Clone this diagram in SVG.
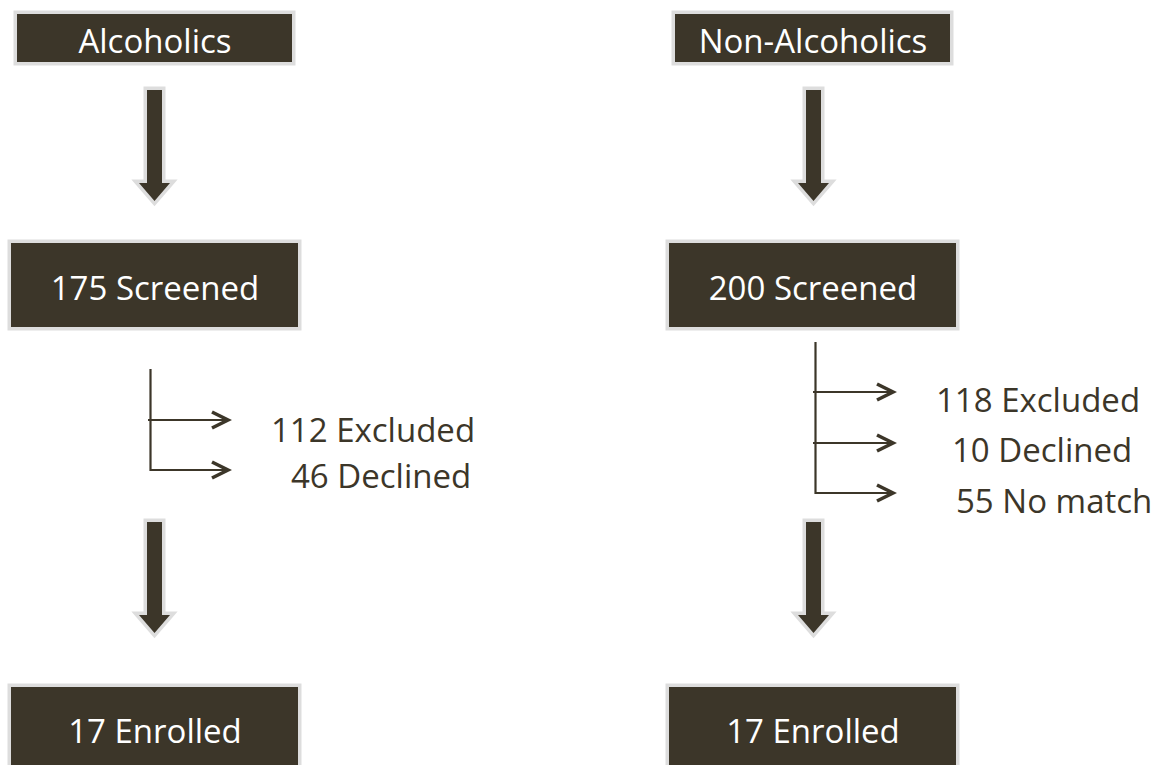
<svg xmlns="http://www.w3.org/2000/svg" width="1158" height="765" viewBox="0 0 1158 765">
<defs>
<style>
.box{fill:#3c3629;stroke:#dddddd;stroke-width:7;paint-order:stroke;}
.lbl{font-family:"Open Sans","Noto Sans",sans-serif;font-size:33px;fill:#ffffff;text-anchor:middle;}
.side{font-family:"Open Sans","Noto Sans",sans-serif;font-size:33px;fill:#3c3629;}
.blk{fill:#3c3629;stroke:#dddddd;stroke-width:7;stroke-linejoin:miter;stroke-miterlimit:10;paint-order:stroke;}
.ln{fill:none;stroke:#3c3629;stroke-width:2.2;}
</style>
<marker id="chev" markerUnits="userSpaceOnUse" markerWidth="22" markerHeight="22" viewBox="0 0 22 22" refX="18" refY="11" orient="auto">
<path d="M2,3 L18,11 L2,19" fill="none" stroke="#3c3629" stroke-width="3.6"/>
</marker>
</defs>
<rect width="1158" height="765" fill="#ffffff"/>
<g id="alcoholics"><rect class="box" x="17" y="14" width="275" height="48"/><text class="lbl" x="155" y="53">Alcoholics</text></g>
<g id="non-alcoholics"><rect class="box" x="675" y="14" width="275" height="48"/><text class="lbl" x="813" y="53">Non-Alcoholics</text></g>
<g id="screened-175"><rect class="box" x="11" y="243" width="287" height="84"/><text class="lbl" x="155" y="300">175 Screened</text></g>
<g id="screened-200"><rect class="box" x="669" y="243" width="287" height="84"/><text class="lbl" x="813" y="300">200 Screened</text></g>
<g id="enrolled-left"><rect class="box" x="11" y="687" width="287" height="90"/><text class="lbl" x="155" y="743">17 Enrolled</text></g>
<g id="enrolled-right"><rect class="box" x="669" y="687" width="287" height="90"/><text class="lbl" x="813" y="743">17 Enrolled</text></g>
<g id="excl-left"><text class="side" x="271" y="442">112 Excluded</text><text class="side" x="291" y="488">46 Declined</text></g>
<g id="excl-right"><text class="side" x="936" y="412">118 Excluded</text><text class="side" x="952" y="462">10 Declined</text><text class="side" x="956" y="513">55 No match</text></g>
<g id="connectors">
<polygon class="blk" points="147,90 162,90 162,183 170,183 154.5,201 139,183 147,183"/>
<polygon class="blk" points="806,90 821,90 821,183 829,183 813.5,201 798,183 806,183"/>
<polygon class="blk" points="147,522 162,522 162,615 170,615 154.5,633 139,615 147,615"/>
<polygon class="blk" points="806,522 821,522 821,615 829,615 813.5,633 798,615 806,615"/>
<path class="ln" d="M150.5,369 V471"/>
<path class="ln" d="M148,420 H228" marker-end="url(#chev)"/>
<path class="ln" d="M150.5,470 H228" marker-end="url(#chev)"/>
<path class="ln" d="M815.5,342 V494"/>
<path class="ln" d="M813,392 H893" marker-end="url(#chev)"/>
<path class="ln" d="M813,443 H893" marker-end="url(#chev)"/>
<path class="ln" d="M815.5,493 H893" marker-end="url(#chev)"/>
</g>
</svg>
